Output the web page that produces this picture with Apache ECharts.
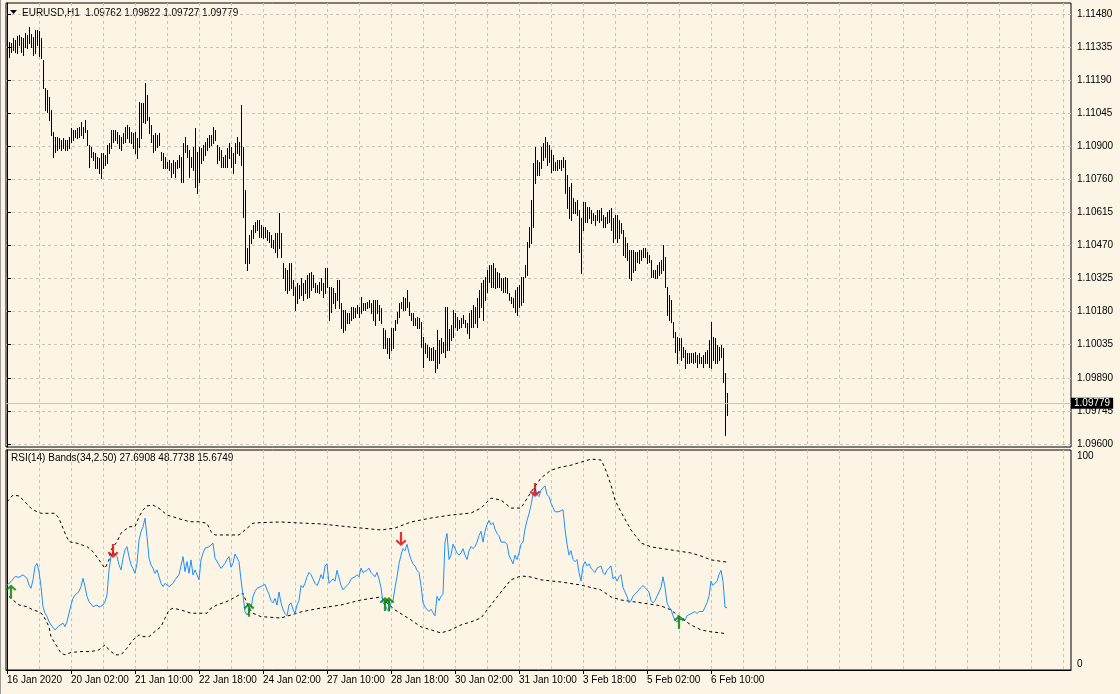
<!DOCTYPE html>
<html><head><meta charset="utf-8">
<script src="https://cdn.jsdelivr.net/npm/echarts@6/dist/echarts.min.js"></script>
<style>html,body{margin:0;padding:0;background:#FCF5E5;}#c{width:1120px;height:694px;}</style>
</head><body><div id="c"></div>
<script>
// ---- data ----
const dateLabels = ['16 Jan 2020','20 Jan 02:00','21 Jan 10:00','22 Jan 18:00','24 Jan 02:00','27 Jan 10:00','28 Jan 18:00','30 Jan 02:00','31 Jan 10:00','3 Feb 18:00','5 Feb 02:00','6 Feb 10:00'];
const priceTicks = [1.11480,1.11335,1.11190,1.11045,1.10900,1.10760,1.10615,1.10470,1.10325,1.10180,1.10035,1.09890,1.09745,1.09600];
const lastOHLC = [1.09762,1.09822,1.09727,1.09779];
const barHigh = [
1.11423,1.11357,1.11353,1.11375,1.11366,1.11384,1.11388,1.11379,1.11375,1.11397,
1.11388,1.11423,1.11393,1.11379,1.11410,1.11410,1.11406,1.11375,1.11279,1.11156,
1.11148,1.11117,1.11060,1.10964,1.10942,1.10942,1.10938,1.10929,1.10938,1.10929,
1.10929,1.10942,1.10982,1.10973,1.10973,1.10982,1.10986,1.11008,1.10986,1.11017,
1.10973,1.10907,1.10898,1.10877,1.10873,1.10855,1.10851,1.10873,1.10873,1.10864,
1.10907,1.10916,1.10973,1.10973,1.10973,1.10964,1.10951,1.10942,1.10960,1.10986,
1.10995,1.10986,1.10964,1.10960,1.10964,1.10938,1.11095,1.11091,1.11091,1.11178,
1.11126,1.11030,1.10995,1.10951,1.10960,1.10951,1.10960,1.10877,1.10873,1.10855,
1.10833,1.10842,1.10829,1.10842,1.10833,1.10842,1.10864,1.10855,1.10916,1.10942,
1.10907,1.10886,1.10855,1.10898,1.10982,1.10877,1.10898,1.10894,1.10907,1.10920,
1.10938,1.10951,1.10951,1.10986,1.10973,1.10907,1.10898,1.10886,1.10855,1.10864,
1.10894,1.10916,1.10898,1.10873,1.10916,1.10942,1.10920,1.11082,1.10898,1.10711,
1.10458,1.10514,1.10536,1.10558,1.10571,1.10580,1.10580,1.10558,1.10549,1.10549,
1.10536,1.10527,1.10514,1.10492,1.10523,1.10523,1.10610,1.10523,1.10392,1.10370,
1.10361,1.10392,1.10392,1.10317,1.10286,1.10304,1.10295,1.10326,1.10304,1.10317,
1.10339,1.10348,1.10352,1.10339,1.10304,1.10295,1.10308,1.10326,1.10304,1.10370,
1.10370,1.10287,1.10287,1.10282,1.10261,1.10317,1.10317,1.10217,1.10186,1.10186,
1.10173,1.10173,1.10199,1.10199,1.10195,1.10208,1.10199,1.10243,1.10217,1.10217,
1.10221,1.10230,1.10217,1.10230,1.10230,1.10230,1.10208,1.10195,1.10108,1.10099,
1.10064,1.10064,1.10108,1.10108,1.10143,1.10177,1.10217,1.10221,1.10243,1.10239,
1.10274,1.10221,1.10173,1.10173,1.10151,1.10156,1.10151,1.10134,1.10068,1.10042,
1.10033,1.10025,1.10020,1.10025,1.10012,1.10099,1.10055,1.10064,1.10046,1.10199,
1.10199,1.10103,1.10121,1.10186,1.10173,1.10156,1.10143,1.10151,1.10164,1.10143,
1.10130,1.10173,1.10186,1.10208,1.10199,1.10239,1.10274,1.10304,1.10317,1.10330,
1.10361,1.10383,1.10383,1.10392,1.10370,1.10352,1.10348,1.10326,1.10326,1.10330,
1.10326,1.10261,1.10243,1.10239,1.10274,1.10287,1.10295,1.10330,1.10330,1.10383,
1.10484,1.10549,1.10667,1.10829,1.10898,1.10842,1.10833,1.10898,1.10916,1.10942,
1.10920,1.10907,1.10886,1.10864,1.10833,1.10842,1.10842,1.10842,1.10855,1.10842,
1.10776,1.10724,1.10741,1.10676,1.10658,1.10667,1.10623,1.10588,1.10658,1.10658,
1.10636,1.10636,1.10623,1.10610,1.10601,1.10623,1.10623,1.10632,1.10601,1.10593,
1.10615,1.10623,1.10632,1.10588,1.10601,1.10601,1.10580,1.10567,1.10536,1.10505,
1.10479,1.10449,1.10449,1.10449,1.10440,1.10440,1.10449,1.10449,1.10458,1.10458,
1.10440,1.10427,1.10405,1.10361,1.10361,1.10383,1.10396,1.10405,1.10471,1.10418,
1.10287,1.10252,1.10230,1.10134,1.10090,1.10068,1.10064,1.10064,1.10025,1.10012,
1.09998,1.09998,1.09998,1.09998,1.10003,1.09990,1.09998,1.09981,1.09990,1.10003,
1.10012,1.10055,1.10134,1.10068,1.10064,1.10033,1.10025,1.10033,1.10020,1.09911,
1.09822];
const barLow = [
1.11270,1.11292,1.11314,1.11323,1.11314,1.11310,1.11344,1.11314,1.11301,1.11335,
1.11331,1.11353,1.11335,1.11301,1.11310,1.11344,1.11297,1.11288,1.11156,1.11060,
1.11051,1.11017,1.10951,1.10855,1.10877,1.10886,1.10894,1.10886,1.10894,1.10886,
1.10886,1.10894,1.10920,1.10929,1.10942,1.10938,1.10942,1.10951,1.10938,1.10964,
1.10907,1.10811,1.10855,1.10842,1.10807,1.10807,1.10785,1.10763,1.10807,1.10820,
1.10829,1.10873,1.10894,1.10920,1.10929,1.10916,1.10894,1.10886,1.10916,1.10920,
1.10938,1.10920,1.10916,1.10894,1.10873,1.10851,1.10898,1.10938,1.11008,1.11004,
1.11017,1.10960,1.10920,1.10877,1.10886,1.10898,1.10907,1.10842,1.10807,1.10807,
1.10807,1.10798,1.10768,1.10785,1.10768,1.10807,1.10811,1.10745,1.10745,1.10877,
1.10855,1.10768,1.10811,1.10798,1.10724,1.10698,1.10745,1.10829,1.10842,1.10864,
1.10886,1.10898,1.10907,1.10916,1.10929,1.10829,1.10842,1.10811,1.10811,1.10811,
1.10811,1.10851,1.10811,1.10785,1.10829,1.10873,1.10864,1.10820,1.10593,1.10392,
1.10361,1.10392,1.10479,1.10501,1.10527,1.10536,1.10505,1.10505,1.10501,1.10505,
1.10492,1.10484,1.10462,1.10458,1.10440,1.10418,1.10458,1.10418,1.10326,1.10274,
1.10261,1.10274,1.10282,1.10252,1.10186,1.10217,1.10239,1.10252,1.10230,1.10261,
1.10239,1.10243,1.10274,1.10287,1.10265,1.10265,1.10261,1.10274,1.10243,1.10261,
1.10287,1.10143,1.10177,1.10217,1.10195,1.10230,1.10195,1.10108,1.10090,1.10099,
1.10130,1.10130,1.10143,1.10151,1.10156,1.10173,1.10156,1.10173,1.10186,1.10186,
1.10195,1.10199,1.10173,1.10143,1.10121,1.10173,1.10143,1.10130,1.10020,1.10020,
1.09998,1.09976,1.10012,1.10020,1.10099,1.10130,1.10156,1.10195,1.10186,1.10186,
1.10199,1.10164,1.10143,1.10121,1.10121,1.10108,1.10108,1.10025,1.09937,1.09998,
1.09981,1.09968,1.09968,1.09968,1.09915,1.09933,1.09955,1.09998,1.10003,1.09981,
1.10012,1.10012,1.10055,1.10068,1.10112,1.10099,1.10108,1.10112,1.10130,1.10112,
1.10086,1.10064,1.10112,1.10112,1.10130,1.10112,1.10156,1.10199,1.10143,1.10230,
1.10265,1.10308,1.10287,1.10287,1.10282,1.10287,1.10287,1.10274,1.10265,1.10265,
1.10261,1.10230,1.10217,1.10199,1.10177,1.10164,1.10199,1.10208,1.10221,1.10330,
1.10339,1.10462,1.10479,1.10549,1.10741,1.10776,1.10776,1.10807,1.10842,1.10855,
1.10820,1.10833,1.10789,1.10798,1.10798,1.10798,1.10807,1.10798,1.10811,1.10698,
1.10632,1.10588,1.10580,1.10610,1.10610,1.10601,1.10440,1.10348,1.10536,1.10571,
1.10571,1.10588,1.10567,1.10580,1.10558,1.10580,1.10571,1.10580,1.10549,1.10549,
1.10567,1.10571,1.10536,1.10484,1.10501,1.10484,1.10501,1.10523,1.10427,1.10418,
1.10405,1.10326,1.10317,1.10352,1.10361,1.10396,1.10392,1.10405,1.10418,1.10418,
1.10392,1.10396,1.10330,1.10330,1.10326,1.10326,1.10339,1.10348,1.10361,1.10287,
1.10164,1.10143,1.10134,1.10068,1.10003,1.09955,1.10012,1.09968,1.09981,1.09933,
1.09955,1.09955,1.09959,1.09955,1.09959,1.09937,1.09955,1.09955,1.09937,1.09955,
1.09955,1.09937,1.09933,1.09968,1.09955,1.09955,1.09968,1.09981,1.09872,1.09640,
1.09727];
const rsi = [
38.2,39.0,39.8,40.6,42.1,42.9,41.8,42.4,42.9,42.1,
41.3,38.2,36.7,40.6,46.7,48.2,44.4,37.5,28.2,25.2,
23.6,21.3,19.8,19.0,17.5,18.3,19.4,20.3,20.6,19.0,
21.3,25.2,29.0,32.1,33.6,34.4,35.2,37.5,41.3,37.5,
32.9,30.6,30.1,28.2,29.0,29.0,28.0,27.5,29.0,30.6,
33.6,45.2,51.3,53.6,54.4,51.3,47.5,45.2,50.6,54.4,
55.9,51.3,47.5,45.9,43.6,48.2,59.0,62.8,65.1,69.0,
60.5,50.6,47.5,45.9,43.6,45.2,44.4,39.0,37.5,39.0,
38.2,37.5,36.7,39.0,40.6,41.3,42.9,43.6,51.3,44.4,
49.0,43.6,49.8,42.9,45.2,42.9,40.6,49.8,52.9,55.2,
55.9,55.9,56.7,57.5,50.6,50.6,47.5,45.9,46.4,48.2,
50.1,51.3,46.4,48.2,52.5,51.6,49.0,40.6,33.6,25.9,
24.4,25.9,27.5,32.9,35.2,36.7,37.2,37.5,37.5,38.5,
36,34,31,30,32,29,35,30,27,25,
24,29,30,27,25,29,31,38,37,39,
42,44,43,41,39,38,40,43,41,47,
48,39,40,41,40,45,45,38,36,37,
38,39,41,41,42,43,42,46,44,44,
45,46,44,43,42,44,41,37,30,29,
27,26,30,31,37,42,48,52,55,54,
57,53,50,48,47,45,44,38,30,28,
27,26,27,27,24,33,31,33,34,58,
62,50,52,57,55,53,52,53,55,52,
50,54,56,55,56,58,61,63,58,63,
66,68,66,67,64,62,61,58,58,58,
57,52,50,48,52,50,53,57,58,64,
68,71,75,80,83,80,79,82,83,84,
80,79,76,74,72,72,72,72,73,64,
57,52,54,50,49,50,44,40,47,49,
47,48,46,45,44,46,46,47,44,43,
45,46,47,41,42,40,42,43,37,35,
33,30,31,33,34,34,36,37,38,38,
36,35,31,30,31,33,35,37,42,37,
30,28,27,24,22,21,23,22,23,22,
24,24,25,25,26,25,26,26,26,28,
30,33,40,38,38,40,43,45,40,28,
27.6908];
const upperBandBars = [0,3,6,9,12,15,17,24,26,29,31,35,40,43,46,49,51,52,55,57,61,64,66,68,70,73,76,80,83,88,92,96,100,102,104,110,116,120,123,127,137,147,157,167,177,187,194,202,212,222,232,237,242,247,252,257,262,267,272,277,282,287,292,297,299,302,304,307,312,317,322,332,342,347,352,360];
const upperBand = [76.6,79.7,79.3,76.6,73.6,72.0,71.3,71.3,69.0,62.1,58.2,57.5,55.9,53.6,49.8,45.9,49.8,54.4,58.2,62.1,65.1,65.1,69.7,72.8,74.7,75.1,73.6,70.5,69.7,68.2,67.4,67.4,66.7,62.8,61.3,61.3,61.3,64.4,66.7,67.0,67.3,66.8,66.4,65.4,64.5,63.6,64.5,67.3,69.1,70.5,71.4,73.7,78.3,77.4,73.7,73.7,81.1,87.6,91.2,92.6,93.5,94.9,96.3,95.9,92.2,84.3,77.4,71.9,63.6,57.6,55.8,54.4,53.0,51.6,49.8,48.7738];
const lowerBandBars = [1,3,6,10,13,16,18,21,22,25,27,29,32,37,42,46,49,51,54,57,60,63,66,68,71,73,77,79,81,83,87,92,97,100,102,105,110,116,118,121,123,127,129,137,147,157,167,177,187,190,194,202,207,212,217,222,227,232,237,242,247,252,257,262,267,277,287,297,302,307,317,327,332,335,337,342,347,352,357,360];
const lowerBand = [32.9,31.3,29.0,28.2,26.7,25.9,24.4,19.0,14.4,9.8,6.8,6.0,7.1,7.5,7.5,8.3,10.6,8.3,6.0,6.0,9.1,12.9,15.2,14.4,14.4,16.0,19.0,22.9,26.7,27.5,26.7,25.2,25.2,25.2,27.5,29.0,30.6,33.6,34.4,27.5,25.2,23.6,23.5,23.0,25.8,27.6,29.0,31.3,32.7,30.0,26.7,22.1,18.9,17.5,16.1,17.5,19.8,21.2,23.0,29.0,35.0,40.6,42.4,41.9,40.6,39.6,38.2,35.9,32.7,31.3,30.0,28.6,26.7,24.4,23.0,19.8,17.5,16.6,16.1,15.6749];
const buySignalBars = [2,121,189,191,336];
const buySignalValues = [38.5,30.0,32.7,32.7,24.4];
const sellSignalBars = [53,197,264];
const sellSignalValues = [50.7,56.2,78.8];

// ---- chart ----
const FONT = '"Liberation Sans",Arial,sans-serif';
const FS = 10;
const BG = '#FCF5E5';
const GRIDC = '#c9c5b9';
const grid16 = []; for (let k = 16; k <= 528; k += 16) grid16.push(k);
const labelBars = dateLabels.map((_, k) => k * 32);
const barData = barHigh.map((h, i) => [i, h, barLow[i]]);
const rsiData = rsi.map((v, i) => [i, v]);
const upData = upperBandBars.map((b, i) => [b, upperBand[i]]);
const loData = lowerBandBars.map((b, i) => [b, lowerBand[i]]);
const buyData = buySignalBars.map((b, i) => [b, buySignalValues[i]]);
const sellData = sellSignalBars.map((b, i) => [b, sellSignalValues[i]]);
const UP = 'path://M5,0 L10,5 L8.6,6.4 L6,3.8 L6,14 L4,14 L4,3.8 L1.4,6.4 L0,5 Z';
const DOWN = 'path://M5,14 L10,9 L8.6,7.6 L6,10.2 L6,0 L4,0 L4,10.2 L1.4,7.6 L0,9 Z';
const headerText = 'EURUSD,H1  ' + lastOHLC.map(v => v.toFixed(5)).join(' ');
const rsiHeader = 'RSI(14) Bands(34,2.50) ' + rsi[rsi.length - 1].toFixed(4) + ' ' + upperBand[upperBand.length - 1].toFixed(4) + ' ' + lowerBand[lowerBand.length - 1].toFixed(4);

const chart = echarts.init(document.getElementById('c'), null, {renderer: 'canvas'});
const xBase = {type: 'value', min: -0.5, max: 532, axisLine: {show: false}, axisLabel: {show: false},
  axisTick: {show: false, customValues: grid16}, splitLine: {show: true, lineStyle: {color: GRIDC, type: [3, 3], width: 1}}};
chart.setOption({
  backgroundColor: BG,
  animation: false,
  textStyle: {fontFamily: FONT},
  grid: [
    {left: 6, top: 3, width: 1065, height: 444, show: true, borderColor: '#000', borderWidth: 1},
    {left: 6, top: 450, width: 1065, height: 220, show: true, borderColor: '#000', borderWidth: 1}
  ],
  xAxis: [
    Object.assign({gridIndex: 0}, xBase),
    Object.assign({gridIndex: 1}, xBase),
    {gridIndex: 1, type: 'value', min: -0.5, max: 532, position: 'bottom',
      axisLine: {show: true, lineStyle: {color: '#000'}},
      axisTick: {show: true, customValues: labelBars, length: 4, lineStyle: {color: '#000'}},
      axisLabel: {customValues: labelBars, formatter: v => dateLabels[Math.round(v / 32)], align: 'left',
        margin: 5, fontSize: FS, fontFamily: FONT, color: '#000'},
      splitLine: {show: false}}
  ],
  yAxis: [
    {gridIndex: 0, type: 'value', position: 'right', min: 1.09588, max: 1.11528,
      axisLine: {show: true, lineStyle: {color: '#000'}},
      axisTick: {show: true, customValues: priceTicks, length: 4, lineStyle: {color: '#000'}},
      axisLabel: {customValues: priceTicks, formatter: v => v.toFixed(5), margin: 6, fontSize: FS, fontFamily: FONT, color: '#000'},
      splitLine: {show: true, lineStyle: {color: GRIDC, type: [3, 3], width: 1}}},
    {gridIndex: 1, type: 'value', position: 'right', min: -1, max: 100.5,
      axisLine: {show: true, lineStyle: {color: '#000'}},
      axisTick: {show: false, customValues: [0, 100]},
      axisLabel: {customValues: [0, 100], margin: 6, color: '#000', fontSize: FS, fontFamily: FONT,
        formatter: v => v >= 50 ? '{t|100}' : '{b|0}',
        rich: {t: {padding: [10, 0, 0, 0], fontSize: FS, fontFamily: FONT, color: '#000'},
               b: {padding: [0, 0, 8, 0], fontSize: FS, fontFamily: FONT, color: '#000'}}},
      splitLine: {show: false}}
  ],
  series: [
    {type: 'custom', xAxisIndex: 0, yAxisIndex: 0, data: barData, encode: {x: 0, y: [1, 2]}, silent: true, clip: true,
      renderItem: (params, api) => {
        const a = api.coord([api.value(0), api.value(1)]);
        const b = api.coord([api.value(0), api.value(2)]);
        const x = Math.round(a[0]) + 0.5;
        return {type: 'line', shape: {x1: x, y1: Math.round(a[1]), x2: x, y2: Math.round(b[1]) + 1},
          style: {stroke: '#000', lineWidth: 1}};
      }},
    {type: 'line', xAxisIndex: 0, yAxisIndex: 0, data: [[barHigh.length - 1, lastOHLC[3]]], showSymbol: false,
      lineStyle: {opacity: 0}, silent: true, z: 1,
      markLine: {silent: true, symbol: ['none', 'none'], animation: false, precision: 5,
        data: [{yAxis: lastOHLC[3]}],
        lineStyle: {color: '#c4c4c4', type: 'solid', width: 1},
        label: {show: true, position: 'end', distance: 0, formatter: lastOHLC[3].toFixed(5),
          color: '#fff', backgroundColor: '#000', padding: [1, 3, 0, 3], fontSize: FS, fontFamily: FONT}}},
    {type: 'line', xAxisIndex: 1, yAxisIndex: 1, data: upData, showSymbol: false, silent: true,
      lineStyle: {color: '#000', width: 1, type: [3, 3]}},
    {type: 'line', xAxisIndex: 1, yAxisIndex: 1, data: loData, showSymbol: false, silent: true,
      lineStyle: {color: '#000', width: 1, type: [3, 3]}},
    {type: 'line', xAxisIndex: 1, yAxisIndex: 1, data: rsiData, showSymbol: false, silent: true,
      lineStyle: {color: '#1E90FF', width: 1}},
    {type: 'scatter', xAxisIndex: 1, yAxisIndex: 1, data: buyData, symbol: UP, symbolSize: [11, 14],
      symbolOffset: [0, 7], itemStyle: {color: '#008000'}, silent: true, z: 5},
    {type: 'scatter', xAxisIndex: 1, yAxisIndex: 1, data: sellData, symbol: DOWN, symbolSize: [11, 14],
      symbolOffset: [0, -7], itemStyle: {color: '#e00000'}, silent: true, z: 5}
  ],
  graphic: [
    {type: 'polygon', shape: {points: [[10, 10], [17, 10], [13.5, 14]]}, style: {fill: '#000'}},
    {type: 'text', x: 22, y: 13, style: {text: headerText, font: FS + 'px ' + FONT, fill: '#000', textVerticalAlign: 'middle'}},
    {type: 'text', x: 11, y: 458, style: {text: rsiHeader, font: FS + 'px ' + FONT, fill: '#000', textVerticalAlign: 'middle'}},
    {type: 'line', shape: {x1: 0.5, y1: 0, x2: 0.5, y2: 694}, style: {stroke: '#9a9a9a', lineWidth: 1}}
  ]
});
</script></body></html>
